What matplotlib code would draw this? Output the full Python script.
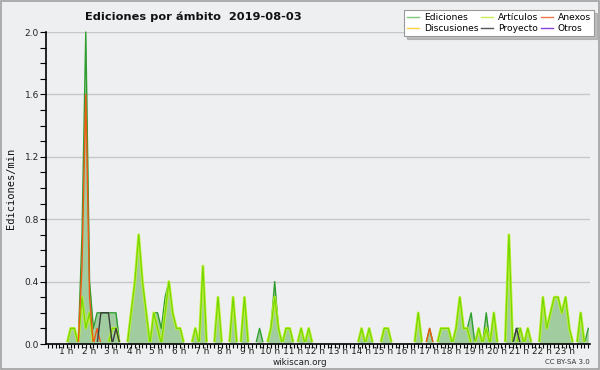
import matplotlib.pyplot as plt
from matplotlib.patches import Rectangle
from matplotlib.lines import Line2D

# edits per minute, one value per 10-minute bin, one row per hour
ediciones = [
    0, 0, 0, 0, 0, 0,
    0.1, 0.1, 0, 0.7, 2.0, 0.4,
    0.1, 0.2, 0.2, 0.2, 0.2, 0.2,
    0.2, 0, 0, 0, 0.2, 0.4,
    0.7, 0.4, 0.2, 0, 0.2, 0.2,
    0.1, 0.3, 0.4, 0.2, 0.1, 0.1,
    0, 0, 0, 0.1, 0, 0.5,
    0, 0, 0, 0.3, 0, 0,
    0, 0.3, 0, 0, 0.3, 0,
    0, 0, 0.1, 0, 0, 0.1,
    0.4, 0.1, 0, 0.1, 0.1, 0,
    0, 0.1, 0, 0.1, 0, 0,
    0, 0, 0, 0, 0, 0,
    0, 0, 0, 0, 0, 0.1,
    0, 0.1, 0, 0, 0, 0.1,
    0.1, 0, 0, 0, 0, 0,
    0, 0, 0.2, 0, 0, 0.1,
    0, 0, 0.1, 0.1, 0.1, 0,
    0.1, 0.3, 0.1, 0.1, 0.2, 0,
    0.1, 0, 0.2, 0, 0.2, 0,
    0, 0, 0.7, 0, 0.1, 0.1,
    0, 0.1, 0, 0, 0, 0.3,
    0.1, 0.2, 0.3, 0.3, 0.2, 0.3,
    0.1, 0, 0, 0.2, 0, 0.1,
]

articulos = [
    0, 0, 0, 0, 0, 0,
    0.1, 0.1, 0, 0.3, 0.1, 0.2,
    0, 0, 0, 0, 0, 0.1,
    0.1, 0, 0, 0, 0.2, 0.4,
    0.7, 0.4, 0.2, 0, 0.2, 0.1,
    0, 0.2, 0.4, 0.2, 0.1, 0.1,
    0, 0, 0, 0.1, 0, 0.5,
    0, 0, 0, 0.3, 0, 0,
    0, 0.3, 0, 0, 0.3, 0,
    0, 0, 0, 0, 0, 0.1,
    0.3, 0.1, 0, 0.1, 0.1, 0,
    0, 0.1, 0, 0.1, 0, 0,
    0, 0, 0, 0, 0, 0,
    0, 0, 0, 0, 0, 0.1,
    0, 0.1, 0, 0, 0, 0.1,
    0.1, 0, 0, 0, 0, 0,
    0, 0, 0.2, 0, 0, 0,
    0, 0, 0.1, 0.1, 0.1, 0,
    0.1, 0.3, 0.1, 0.1, 0, 0,
    0.1, 0, 0.1, 0, 0.2, 0,
    0, 0, 0.7, 0, 0, 0.1,
    0, 0.1, 0, 0, 0, 0.3,
    0.1, 0.2, 0.3, 0.3, 0.2, 0.3,
    0.1, 0, 0, 0.2, 0, 0,
]

anexos = [0] * 144
anexos[9] = 0.5
anexos[10] = 1.6
anexos[11] = 0.3
anexos[13] = 0.1
anexos[101] = 0.1

proyecto = [0] * 144
proyecto[14] = 0.2
proyecto[15] = 0.2
proyecto[16] = 0.2
proyecto[18] = 0.1
proyecto[124] = 0.1

discusiones = [0] * 144
otros = [0] * 144

hour_labels = [f"{h} h" for h in range(1, 24)]
y_ticks = [0.0, 0.4, 0.8, 1.2, 1.6, 2.0]

bins = list(range(144))
bg = "#eeeff0"

fig = plt.figure(figsize=(6, 3.7), dpi=100, facecolor=bg)
ax = fig.add_axes([46 / 600, 1 - 344 / 370, 544 / 600, 312 / 370], facecolor=bg)

# keep the series lines off the baseline, like the original
clip = Rectangle((-1, 0.012), 146, 3, transform=ax.transData)

ax.fill_between(bins, ediciones, 0, color="#a0cca0", lw=0, zorder=1)
lines = []
lines += ax.plot(bins, ediciones, color="#2f9e2f", lw=1.0, zorder=2)
lines += ax.plot(bins, discusiones, color="#ffcc33", lw=1.0, zorder=2)
lines += ax.plot(bins, otros, color="#8844dd", lw=1.0, zorder=2)
lines += ax.plot(bins, articulos, color="#c4f03c", lw=2.0, zorder=3)
lines += ax.plot(bins, articulos, color="#74d800", lw=0.9, zorder=3)
lines += ax.plot(bins, anexos, color="#f05a14", lw=1.0, zorder=4)
lines += ax.plot(bins, proyecto, color="#3c3c3c", lw=1.0, zorder=4)
for ln in lines:
    ln.set_clip_path(clip)

ax.set_xlim(-0.53, 143.46)
ax.set_ylim(0, 2.0)

# y axis
ax.set_yticks(y_ticks)
ax.set_yticklabels([f"{v:.1f}" for v in y_ticks], fontsize=6.5, color="#222222")
ax.set_yticks([i / 10 for i in range(21)], minor=True)
ax.tick_params(axis="y", which="both", direction="out", length=4, width=0.8, pad=1)
ax.grid(axis="y", color="#c8c8c8", lw=1.0, zorder=0)
ax.set_axisbelow(True)

# x axis: a tick every 10 minutes, hour labels
ax.set_xticks(bins, minor=True)
ax.set_xticks([6 * h - 1.24 for h in range(1, 24)])
ax.set_xticklabels(hour_labels, fontsize=6.5, color="#222222")
ax.tick_params(axis="x", which="minor", direction="out", length=3, width=0.8)
ax.tick_params(axis="x", which="major", length=0, pad=2)

for side in ["top", "right"]:
    ax.spines[side].set_visible(False)
for side in ["left", "bottom"]:
    ax.spines[side].set_linewidth(1.2)
    ax.spines[side].set_zorder(6)

fig.text(85 / 600, 1 - 17 / 370, "Ediciones por ámbito  2019-08-03",
         fontsize=8.2, fontweight="bold", va="center", ha="left", color="#111111")
fig.text(11 / 600, 1 - 188 / 370, "Ediciones/min", rotation=90, fontsize=7.5,
         family="DejaVu Sans Mono", va="center", ha="center", color="#111111")
fig.text(300 / 600, 1 - 362.5 / 370, "wikiscan.org", fontsize=6.3,
         va="center", ha="center", color="#222222")
fig.text(590 / 600, 1 - 362.5 / 370, "CC BY-SA 3.0", fontsize=5,
         va="center", ha="right", color="#333333")

handles = [
    Line2D([], [], color="#80c880", lw=1),
    Line2D([], [], color="#ffd040", lw=1),
    Line2D([], [], color="#c8ee50", lw=1),
    Line2D([], [], color="#555555", lw=1),
    Line2D([], [], color="#f07848", lw=1),
    Line2D([], [], color="#8844dd", lw=1),
]
labels = ["Ediciones", "Discusiones", "Artículos", "Proyecto", "Anexos", "Otros"]
leg = fig.legend(handles, labels, ncol=3, loc="upper left",
                 bbox_to_anchor=(404 / 600, 1 - 10 / 370), fontsize=6.6,
                 frameon=True, fancybox=False, shadow={"color": "#8c8c8c"},
                 handlelength=1.3, handletextpad=0.5, columnspacing=0.35,
                 labelspacing=0.2, borderpad=0.35, borderaxespad=0)
leg.get_frame().set_edgecolor("#999999")
leg.get_frame().set_linewidth(0.8)

fig.patches.append(Rectangle((0.001, 0.002), 0.997, 0.996, transform=fig.transFigure,
                             fill=False, edgecolor="#a0a0a0", lw=1.2))

plt.savefig("out.png", dpi=100, facecolor=bg)
